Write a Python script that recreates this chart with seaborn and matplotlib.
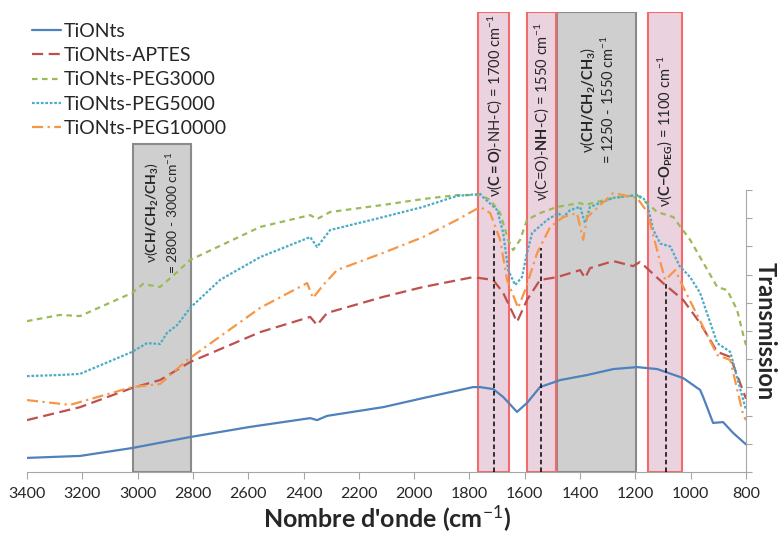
import numpy as np
import pandas as pd
import matplotlib
matplotlib.use("Agg")
import matplotlib.pyplot as plt
import seaborn as sns

# FTIR spectra (wavenumber in cm-1, transmission in arbitrary units)
tionts_wn = [3400, 3208, 3020, 2810, 2593, 2376, 2351, 2315, 2112, 1968, 1787, 1761, 1714, 1678,
             1628, 1592, 1545, 1472, 1374, 1280, 1194, 1121, 1027, 966, 955, 919, 883, 846, 800]
tionts_t = [0.50, 0.57, 0.85, 1.24, 1.60, 1.91, 1.84, 1.99, 2.30, 2.62, 3.01, 3.01, 2.94, 2.66,
            2.13, 2.45, 3.01, 3.26, 3.44, 3.65, 3.72, 3.65, 3.33, 2.91, 2.66, 1.74, 1.77, 1.38, 0.98]

aptes_wn = [3400, 3208, 3020, 2919, 2810, 2557, 2376, 2351, 2315, 2112, 1968, 1787, 1714, 1678,
            1628, 1592, 1545, 1483, 1400, 1382, 1364, 1280, 1208, 1183, 1100, 1027, 966, 904, 857, 800]
aptes_t = [1.84, 2.30, 2.98, 3.26, 3.90, 4.96, 5.50, 5.21, 5.64, 6.21, 6.56, 6.91, 6.81, 6.35,
           5.32, 6.10, 6.81, 6.91, 7.16, 6.88, 7.23, 7.48, 7.30, 7.45, 6.70, 6.10, 5.28, 4.26, 4.08, 2.60]

peg3000_wn = [3400, 3281, 3208, 3020, 2980, 2919, 2857, 2810, 2557, 2376, 2351, 2304, 2112, 1968,
              1845, 1761, 1725, 1689, 1660, 1642, 1617, 1592, 1545, 1483, 1400, 1382, 1280, 1194,
              1172, 1121, 1063, 1002, 904, 868, 832, 810, 800]
peg3000_t = [5.35, 5.57, 5.53, 6.35, 6.67, 6.56, 7.09, 7.52, 8.69, 9.11, 8.97, 9.22, 9.47, 9.68,
             9.82, 9.82, 9.65, 9.18, 8.23, 7.87, 8.23, 8.94, 9.18, 9.40, 9.54, 9.47, 9.72, 9.82,
             9.65, 9.22, 9.04, 8.23, 6.56, 6.45, 5.74, 4.86, 4.50]

peg5000_wn = [3400, 3281, 3208, 3020, 2966, 2919, 2894, 2857, 2810, 2702, 2557, 2376, 2351, 2304,
              2112, 1968, 1845, 1761, 1751, 1700, 1678, 1660, 1635, 1610, 1592, 1573, 1519, 1479,
              1461, 1436, 1400, 1382, 1364, 1280, 1194, 1172, 1157, 1136, 1110, 1074, 1040, 1002,
              966, 904, 857, 810, 800]
peg5000_t = [3.40, 3.44, 3.48, 4.26, 4.57, 4.54, 4.93, 5.21, 5.82, 6.81, 7.62, 8.33, 7.98, 8.58,
             9.04, 9.40, 9.79, 9.86, 9.75, 9.29, 8.48, 7.16, 6.63, 6.91, 7.77, 8.48, 8.94, 9.18,
             9.04, 9.29, 9.40, 8.83, 9.40, 9.72, 9.82, 9.72, 9.50, 8.60, 8.10, 8.00, 7.30, 6.91,
             6.35, 4.57, 4.26, 2.55, 2.20]

peg10000_wn = [3400, 3244, 3020, 2919, 2894, 2821, 2557, 2387, 2366, 2329, 2279, 2112, 1968, 1845,
               1761, 1725, 1689, 1664, 1624, 1599, 1555, 1508, 1461, 1411, 1389, 1374, 1280, 1194,
               1157, 1115, 1092, 1056, 1027, 955, 904, 857, 810, 800]
peg10000_t = [2.55, 2.38, 3.01, 3.12, 3.33, 3.97, 5.82, 6.70, 6.17, 6.63, 7.16, 7.77, 8.33, 8.94,
              9.40, 9.18, 8.23, 6.81, 5.82, 6.45, 7.77, 8.69, 9.04, 9.18, 8.23, 9.04, 9.89, 9.72,
              9.22, 7.62, 6.81, 7.16, 6.56, 5.14, 4.15, 3.97, 2.02, 1.84]

samples = ["TiONts", "TiONts-APTES", "TiONts-PEG3000", "TiONts-PEG5000", "TiONts-PEG10000"]
colors = ["#4F81BD", "#C0504D", "#9BBB59", "#4BACC6", "#F79646"]
dash_styles = ["", (5, 2.5), (2.5, 2), (1.2, 0.8), (5, 2, 1, 2)]

# highlighted bands (cm-1) and marker lines
gray_bands = [(3018, 2807), (1482, 1198)]
pink_bands = [(1768, 1657), (1593, 1487), (1155, 1030)]
marker_wn = [1710, 1540, 1090]
marker_top = [8.65, 7.94, 6.70]
xticks = list(range(800, 3401, 200))

# long format table for seaborn
frames = []
for name, wn, t in zip(samples,
                       [tionts_wn, aptes_wn, peg3000_wn, peg5000_wn, peg10000_wn],
                       [tionts_t, aptes_t, peg3000_t, peg5000_t, peg10000_t]):
    frames.append(pd.DataFrame({"wn": wn, "T": t, "sample": name}))
df = pd.concat(frames, ignore_index=True)

sns.set_style("white")
plt.rcParams["font.family"] = ["Lato", "DejaVu Sans"]
plt.rcParams["mathtext.fontset"] = "custom"
plt.rcParams["mathtext.rm"] = "Lato"
plt.rcParams["mathtext.bf"] = "Lato:bold"
plt.rcParams["mathtext.it"] = "Lato:italic"

fig = plt.figure(figsize=(7.79, 5.34), dpi=100)
ax = fig.add_axes([27 / 779, 62 / 534, 719 / 779, 460 / 534])
YTOP = 460 / 28.2

# bands behind the curves
for lo, hi in gray_bands:
    top = 0.712 if lo > 2000 else 1.0
    ax.axvspan(hi, lo, ymin=0, ymax=top, facecolor="#cfcfcf", edgecolor="#8a8a8a",
               linewidth=1.5, zorder=1)
for lo, hi in pink_bands:
    ax.axvspan(hi, lo, ymin=0, ymax=1.0, facecolor="#ead2de", edgecolor="#f26a6a",
               linewidth=1.5, zorder=1)

sns.lineplot(data=df, x="wn", y="T", hue="sample", style="sample",
             palette=dict(zip(samples, colors)), dashes=dict(zip(samples, dash_styles)),
             hue_order=samples, style_order=samples, estimator=None, sort=False,
             linewidth=1.6, legend=False, ax=ax, zorder=2)

for x, top in zip(marker_wn, marker_top):
    ax.plot([x, x], [0, top], color="black", linestyle=(0, (3, 2)), linewidth=1.1, zorder=3)

ax.set_xlim(3400, 800)
ax.set_ylim(0, YTOP)
ax.set_xticks(xticks)
ax.tick_params(axis="x", direction="out", length=5, color="#a6a6a6", labelsize=11.5,
               pad=6, bottom=True)
ax.yaxis.tick_right()
ax.set_yticks(range(0, 11))
ax.set_yticklabels([])
ax.tick_params(axis="y", direction="out", length=4, color="#a6a6a6", right=True)
for side in ["left", "top"]:
    ax.spines[side].set_visible(False)
ax.spines["bottom"].set_color("#a6a6a6")
ax.spines["right"].set_color("#a6a6a6")
ax.spines["right"].set_bounds(0, 10)
ax.set_xlabel("Nombre d'onde (cm$^{-1}$)", fontsize=18, fontweight="bold", labelpad=2)
ax.set_ylabel("")
fig.text(765 / 779, 1 - 331 / 534, "Transmission", rotation=270, fontsize=17,
         fontweight="bold", ha="center", va="center")

# band annotations
ann_size = 10.5
ax.text(2912, 9.2, "ν" + r"$(\mathbf{CH/CH_2/CH_3})$" + "\n= 2800 - 3000 cm" + r"$^{-1}$",
        rotation=90, ha="center", va="center", multialignment="center", fontsize=10, zorder=4)
ax.text(1711, 13.0, "ν" + r"$(\mathbf{C{=}O})$" + "-NH-C) = 1700 cm" + r"$^{-1}$",
        rotation=90, ha="center", va="center", fontsize=ann_size, zorder=4)
ax.text(1540, 12.77, "ν(C=O)-" + r"$\mathbf{NH}$" + "-C) = 1550 cm" + r"$^{-1}$",
        rotation=90, ha="center", va="center", fontsize=ann_size, zorder=4)
ax.text(1338, 13.2, "ν" + r"$(\mathbf{CH/CH_2/CH_3})$" + "\n= 1250 - 1550 cm" + r"$^{-1}$",
        rotation=90, ha="center", va="center", multialignment="center", fontsize=ann_size, zorder=4)
ax.text(1092, 12.1, "ν" + r"$(\mathbf{C{-}O_{PEG}})$" + " = 1100 cm" + r"$^{-1}$",
        rotation=90, ha="center", va="center", fontsize=ann_size, zorder=4)

handles = ax.get_lines()[:5]
ax.legend(handles, samples, loc="upper left", bbox_to_anchor=(32 / 779, 1 - 23 / 534),
          bbox_transform=fig.transFigure, frameon=False, fontsize=14, labelspacing=0.37,
          handlelength=1.5, handletextpad=0.15, borderpad=0, borderaxespad=0)

fig.savefig("out.png", dpi=100)
